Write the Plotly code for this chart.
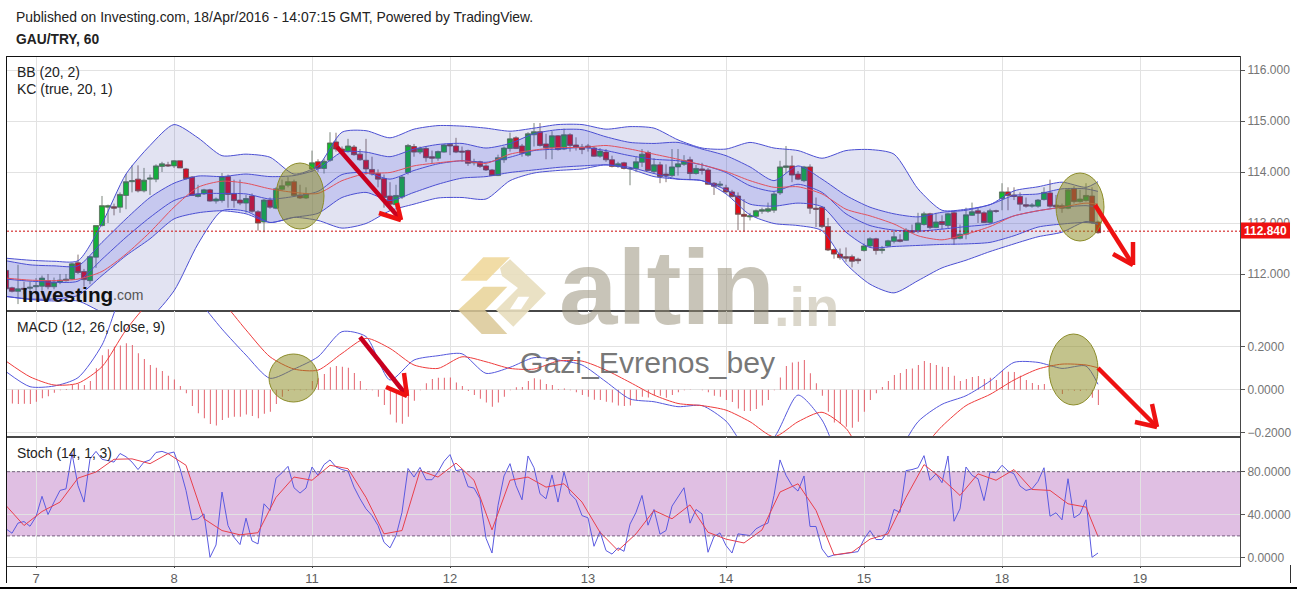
import plotly.graph_objects as go

W, H = 1297, 589

# ---------- data ----------
day_labels = ["7", "8", "11", "12", "13", "14", "15", "18", "19"]
day_bars = [0, 23, 46, 69, 92, 115, 138, 161, 184]
bars = list(range(-5, 178))
last_price = 112.84

price_open = [
 112.07,111.73,111.66,111.72,111.72,111.75,111.76,111.87,111.75,111.84,
 111.87,111.90,112.22,112.05,111.87,112.33,112.95,113.31,113.32,113.31,
 113.54,113.81,113.86,113.63,113.86,113.86,114.11,114.14,114.12,114.22,
 114.06,113.90,113.52,113.57,113.65,113.43,113.44,113.91,113.57,113.45,
 113.39,113.53,113.22,113.02,113.45,113.29,113.66,113.74,113.81,113.55,
 113.49,114.06,114.20,114.07,114.23,114.59,114.45,114.40,114.49,114.35,
 114.23,114.05,113.97,113.87,113.53,113.36,113.51,113.99,114.50,114.39,
 114.46,114.30,114.27,114.39,114.54,114.51,114.41,114.42,114.18,114.20,
 114.12,114.04,113.93,114.24,114.46,114.67,114.51,114.33,114.73,114.79,
 114.55,114.48,114.71,114.45,114.73,114.53,114.49,114.51,114.47,114.31,
 114.39,114.24,114.11,114.18,114.06,114.07,114.19,114.38,114.01,114.14,
 113.96,113.93,114.10,114.15,114.24,113.97,114.06,114.04,113.78,113.74,
 113.69,113.61,113.53,113.17,113.12,113.13,113.23,113.23,113.25,113.59,
 114.09,114.12,113.96,113.83,114.10,113.29,113.31,112.93,112.48,112.39,
 112.34,112.34,112.29,112.46,112.55,112.69,112.46,112.55,112.64,112.67,
 112.66,112.85,112.85,112.97,113.18,112.91,113.03,112.95,113.20,112.70,
 112.78,113.15,113.24,113.20,113.01,113.24,113.48,113.61,113.55,113.52,
 113.36,113.33,113.33,113.46,113.59,113.35,113.34,113.29,113.67,113.42,
 113.44,113.53,113.02]
price_high = [
 112.07,111.75,112.18,111.85,111.85,111.92,111.97,112.00,111.93,112.00,
 112.00,112.22,112.38,112.10,112.36,112.95,113.53,113.36,113.38,113.60,
 113.96,114.13,114.13,114.08,113.95,114.15,114.20,114.20,114.23,114.22,
 114.08,113.92,113.75,113.67,113.67,113.50,113.98,113.95,113.85,113.85,
 113.55,113.58,113.25,113.47,113.50,113.70,113.85,113.90,113.85,113.75,
 113.70,114.42,114.25,114.26,114.78,114.77,114.50,114.65,114.53,114.45,
 114.65,114.30,114.05,113.95,113.80,113.75,113.93,114.55,114.55,114.50,
 114.50,114.42,114.42,114.55,114.55,114.67,114.50,114.44,114.26,114.22,
 114.15,114.06,114.34,114.50,114.77,114.70,114.55,114.78,114.96,114.96,
 114.75,114.80,114.72,114.85,114.76,114.68,114.55,114.55,114.50,114.47,
 114.45,114.32,114.20,114.20,114.10,114.30,114.45,114.42,114.27,114.20,
 114.15,114.45,114.45,114.33,114.30,114.14,114.18,114.08,113.80,113.82,
 113.75,113.65,113.60,113.47,113.20,113.26,113.30,113.40,113.62,114.22,
 114.51,114.32,114.02,114.12,114.15,113.50,113.33,113.10,112.50,112.50,
 112.52,112.38,112.32,112.60,112.72,112.71,112.55,112.67,112.85,112.78,
 112.90,112.97,113.20,113.22,113.20,113.20,113.15,113.20,113.23,112.97,
 113.30,113.40,113.30,113.23,113.28,113.26,113.78,113.70,113.70,113.60,
 113.50,113.39,113.47,113.70,113.85,113.55,113.38,113.68,113.72,113.65,
 113.78,113.70,113.05]
price_low = [
 111.70,111.64,111.41,111.60,111.62,111.60,111.64,111.70,111.70,111.80,
 111.85,111.88,112.00,111.75,111.80,112.12,112.93,113.00,113.15,113.20,
 113.27,113.60,113.60,113.60,113.55,113.80,114.00,114.10,114.08,114.08,
 113.85,113.54,113.50,113.55,113.42,113.38,113.40,113.30,113.30,113.35,
 113.20,113.20,112.85,112.82,113.28,113.27,113.63,113.70,113.52,113.47,
 113.47,114.00,114.00,113.97,114.20,114.40,114.38,114.38,114.32,114.22,
 113.95,113.93,113.70,113.30,113.30,113.30,113.47,113.95,114.30,114.35,
 114.20,114.16,114.22,114.38,114.33,114.37,114.20,114.12,114.13,114.08,
 114.02,113.92,113.92,114.18,114.40,114.45,114.30,114.30,114.50,114.50,
 114.25,114.25,114.42,114.43,114.40,114.42,114.35,114.40,114.30,114.28,
 114.20,114.09,114.08,114.05,113.74,114.00,114.10,114.02,113.98,113.78,
 113.80,113.90,113.93,114.12,113.84,113.95,113.95,113.75,113.55,113.70,
 113.58,113.50,112.86,112.83,113.05,113.10,113.18,113.20,113.20,113.55,
 113.98,113.80,113.84,113.80,113.18,112.92,112.90,112.45,112.30,112.28,
 112.24,112.13,112.20,112.44,112.53,112.38,112.40,112.53,112.60,112.62,
 112.65,112.80,112.80,112.95,112.88,112.90,112.88,112.90,112.57,112.68,
 112.68,113.14,113.00,113.00,112.98,113.20,113.25,113.25,113.45,113.24,
 113.30,113.30,113.30,113.44,113.30,113.30,113.20,113.27,113.38,113.40,
 113.42,112.98,112.79]
price_close = [
 111.71,111.66,111.71,111.70,111.74,111.77,111.92,111.75,111.84,111.88,
 111.90,112.20,112.03,111.89,112.34,112.95,113.34,113.34,113.29,113.56,
 113.81,113.83,113.63,113.84,113.88,114.12,114.16,114.12,114.22,114.08,
 113.87,113.54,113.57,113.65,113.43,113.47,113.91,113.56,113.44,113.39,
 113.48,113.23,113.00,113.45,113.31,113.67,113.73,113.81,113.54,113.49,
 113.57,114.18,114.07,114.21,114.57,114.45,114.39,114.51,114.34,114.24,
 114.06,113.96,113.86,113.50,113.37,113.54,113.90,114.52,114.39,114.46,
 114.28,114.27,114.40,114.53,114.51,114.39,114.39,114.17,114.20,114.11,
 114.04,113.93,114.28,114.47,114.65,114.46,114.37,114.75,114.79,114.52,
 114.48,114.71,114.44,114.73,114.52,114.48,114.44,114.48,114.31,114.41,
 114.24,114.11,114.16,114.07,114.07,114.20,114.35,114.03,114.14,113.91,
 113.93,114.10,114.16,114.22,113.97,114.07,114.03,113.76,113.72,113.76,
 113.61,113.52,113.17,113.13,113.14,113.24,113.26,113.28,113.57,114.10,
 114.12,113.94,113.86,114.10,113.29,113.27,112.93,112.47,112.39,112.32,
 112.31,112.25,112.26,112.55,112.69,112.46,112.49,112.65,112.73,112.64,
 112.86,112.82,113.00,113.18,112.91,113.02,112.97,113.18,112.69,112.78,
 113.16,113.22,113.19,113.01,113.24,113.23,113.61,113.54,113.52,113.37,
 113.33,113.35,113.45,113.60,113.33,113.32,113.29,113.65,113.42,113.47,
 113.54,113.01,112.81]

# channel values read every fourth bar (last one at the final bar)
band_bars = list(range(-5, 176, 4)) + [177]
bb_upper = [
 112.31,112.27,112.25,112.26,112.99,113.96,114.52,114.93,114.67,114.32,114.35,114.29,113.96,114.12,114.78,114.81,114.67,114.84,
 114.91,114.90,114.86,114.80,114.86,114.93,114.93,114.84,114.89,114.86,114.63,114.47,114.45,114.58,114.47,114.42,114.27,114.42,
 114.44,114.35,113.67,113.25,113.27,113.36,113.63,113.71,113.80,113.70,113.81]
bb_lower = [
 111.56,111.50,111.47,111.47,111.25,111.07,111.15,111.67,112.59,113.24,113.23,113.01,113.11,113.05,112.90,112.99,113.24,113.37,
 113.49,113.50,113.47,113.83,113.98,114.03,114.06,114.14,114.06,113.91,113.86,113.83,113.57,113.16,112.99,112.95,112.85,112.20,
 111.80,111.63,111.87,112.12,112.27,112.44,112.59,112.73,112.82,113.03,112.97]
kc_upper = [
 112.26,112.18,112.16,112.16,112.62,113.08,113.50,113.78,113.92,113.91,113.96,113.91,113.93,114.06,114.39,114.39,114.30,114.45,
 114.54,114.56,114.47,114.56,114.75,114.83,114.83,114.69,114.58,114.56,114.58,114.45,114.32,114.10,113.83,114.12,113.86,113.54,
 113.31,113.18,113.12,113.21,113.25,113.36,113.54,113.57,113.67,113.67,113.62]
kc_lower = [
 111.56,111.51,111.51,111.58,111.97,112.36,112.69,113.08,113.20,113.24,113.18,113.01,113.11,113.19,113.50,113.60,113.44,113.60,
 113.76,113.88,113.91,113.99,114.04,114.09,114.12,114.14,114.09,113.97,113.86,113.83,113.65,113.37,113.33,113.39,113.32,112.82,
 112.52,112.54,112.56,112.58,112.59,112.62,112.75,112.92,112.98,113.01,112.98]
kc_mid = [
 111.90,111.86,111.84,111.86,112.29,112.72,113.11,113.44,113.57,113.58,113.57,113.47,113.52,113.62,113.95,113.99,113.86,114.03,
 114.16,114.22,114.19,114.29,114.42,114.45,114.48,114.42,114.32,114.25,114.22,114.14,113.99,113.73,113.62,113.76,113.60,113.18,
 112.95,112.86,112.84,112.88,112.93,112.98,113.14,113.24,113.31,113.34,113.31]
bb_mid = [
 111.92,111.88,111.87,111.90,112.05,112.39,112.82,113.31,113.70,113.82,113.78,113.67,113.60,113.58,113.83,113.97,113.99,114.12,
 114.18,114.22,114.17,114.35,114.43,114.48,114.48,114.52,114.45,114.35,114.25,114.14,114.01,113.83,113.70,113.71,113.57,113.27,
 113.14,112.98,112.75,112.67,112.78,112.93,113.14,113.24,113.31,113.39,113.37]

macd_line = [
 0.084,0.014,0.017,0.056,0.208,0.49,0.58,0.53,0.417,0.282,0.161,0.053,0.096,0.153,0.27,0.247,0.045,0.138,
 0.158,0.167,0.076,0.104,0.149,0.138,0.115,0.037,-0.043,-0.056,-0.079,-0.074,-0.146,-0.288,-0.222,-0.025,-0.141,-0.40,
 -0.53,-0.335,-0.149,-0.068,-0.028,0.04,0.127,0.127,0.099,0.11,0.025]
macd_signal = [
 0.133,0.06,0.022,0.03,0.107,0.278,0.41,0.49,0.49,0.41,0.278,0.153,0.096,0.091,0.169,0.239,0.192,0.115,
 0.099,0.153,0.13,0.099,0.096,0.133,0.133,0.091,0.034,-0.025,-0.064,-0.074,-0.095,-0.149,-0.219,-0.149,-0.105,-0.18,
 -0.35,-0.33,-0.288,-0.17,-0.074,-0.022,0.045,0.096,0.119,0.115,0.102]
macd_hist = [
 -0.07,-0.064,-0.067,-0.065,-0.067,-0.056,-0.04,-0.03,-0.014,-0.002,
 0.003,0.022,0.026,0.022,0.04,0.10,0.16,0.188,0.20,0.205,
 0.216,0.208,0.169,0.143,0.115,0.102,0.087,0.065,0.047,0.017,
 -0.017,-0.076,-0.11,-0.133,-0.16,-0.167,-0.141,-0.13,-0.126,-0.126,
 -0.115,-0.122,-0.133,-0.112,-0.102,-0.067,-0.033,-0.006,-0.003,-0.003,
 -0.003,0.04,0.053,0.073,0.104,0.11,0.107,0.102,0.078,0.04,
 0.003,-0.002,-0.033,-0.071,-0.115,-0.152,-0.158,-0.126,-0.051,-0.003,
 0.03,0.05,0.056,0.056,0.057,0.033,0.017,-0.006,-0.025,-0.042,
 -0.059,-0.079,-0.06,-0.033,-0.002,0.011,0.012,0.04,0.053,0.047,
 0.026,0.022,0.003,0.006,-0.003,-0.012,-0.025,-0.033,-0.047,-0.048,
 -0.056,-0.06,-0.074,-0.076,-0.074,-0.048,-0.033,-0.036,-0.025,-0.028,
 -0.037,-0.025,-0.012,-0.002,-0.001,0.0,-0.003,-0.012,-0.028,-0.033,
 -0.048,-0.057,-0.087,-0.099,-0.099,-0.09,-0.074,-0.048,-0.002,0.057,
 0.11,0.127,0.13,0.138,0.076,0.03,-0.028,-0.102,-0.153,-0.16,
 -0.172,-0.177,-0.149,-0.102,-0.048,-0.016,0.012,0.04,0.068,0.078,
 0.096,0.099,0.115,0.133,0.124,0.115,0.107,0.105,0.065,0.04,
 0.05,0.059,0.064,0.05,0.056,0.045,0.087,0.084,0.082,0.065,
 0.045,0.031,0.022,0.026,0.002,-0.003,-0.02,-0.003,-0.005,-0.006,
 -0.002,-0.037,-0.071]

stoch_k = [
 26.6,22.5,32,33.4,29,38,57,40,51.6,62.5,
 64,97,67,51.6,92,99,91.6,90.6,89,97,
 94,89,82,89,91,98,99,97,98.4,83,
 62.5,35,36,40.6,0,11.5,61,29.7,18.7,11.9,
 36.6,15.3,12.5,50,43.8,74,79,85,65,60,
 64.7,84.4,76.6,86.6,91,84.4,82,80.6,65.6,54.7,
 45.3,39,29.7,14,8.8,20,42,83,75,84,
 72.5,72.5,79.7,89.7,96,81,82,66,64.7,54.7,
 17.8,4,48.4,76,87.5,67,53.7,94.7,83.7,59.4,
 54.7,77,51.6,79.7,59.4,53.7,39,36.9,10.3,24,
 6.3,3,8.8,5.6,31,42,57.8,30,44.7,21.6,
 25,47.8,56,65,31.9,44.7,40.6,4.7,19.4,22.8,
 11,4,21.9,21,20.3,26.6,29.7,32,57.8,91,
 76.6,67,61.9,76,28.8,28.8,7.8,0.3,2.2,2.8,
 3.4,4,5.3,17,25,16.6,16.6,25,44.7,42,
 81,82,83.7,95,72,78,69.7,94.7,33.7,45.3,
 84.4,76.6,73.4,53,79.7,79,86,80.6,78,66.6,
 62.5,64,71,83.7,38.4,41.6,35,73.4,36.9,40.6,
 53.7,0,4]
stoch_d_bars = list(range(-5, 176, 3)) + [177]
stoch_d = [
 48.4,29.7,42.8,51.6,74,79.7,91.6,92,87.5,96.9,86,36,25,21,23,56,75,72,86,82.8,56,21.9,25,81,
 75,88,72,25.6,72,75,65.6,68.7,51.6,23.4,6.3,21.9,43.8,36,49,23.4,17,13.4,25.6,61,68.7,43.8,2.2,4.7,
 17,21.9,56,86.6,73.4,57.8,78,72,82,63.4,62.5,50,46.9,19.4]

# ---------- page geometry (pixels of the page) ----------
LEFT, RIGHT = 7.0, 1240.0
P1_TOP, P1_BOT = 56.5, 310.5
P2_TOP, P2_BOT = 310.5, 437.0
P3_TOP, P3_BOT = 437.0, 565.5

def fx(px):
    return px / W

def fy(py):
    return 1 - py / H

def bar_at(px):
    return (px - 36.0) / 6.0

x_range = [bar_at(LEFT), bar_at(RIGHT)]
y1_range = [116 - (P1_BOT - 70) / 51.0, 116 + (70 - P1_TOP) / 51.0]
y2_range = [-(P2_BOT - 389.7) / 215.0, (389.7 - P2_TOP) / 215.0]
y3_range = [-(P3_BOT - 557.3) / 1.07, (557.3 - P3_TOP) / 1.07]

BLUE = "#4b4fd2"
BAND_BB = "rgba(60,70,170,0.15)"
BAND_KC = "rgba(60,70,225,0.17)"
RED_LINE = "#e2505c"
HIST = "rgba(224,80,92,0.99)"

fig = go.Figure()

def line(x, y, color, xa="x", ya="y", width=1, smooth=False, **kw):
    style = dict(color=color, width=width)
    if smooth:
        style.update(shape="spline", smoothing=0.7)
    fig.add_trace(go.Scatter(x=x, y=y, mode="lines", xaxis=xa, yaxis=ya, line=style,
                             hoverinfo="skip", showlegend=False, **kw))

line(band_bars, bb_upper, BLUE, smooth=True)
line(band_bars, bb_lower, BLUE, smooth=True, fill="tonexty", fillcolor=BAND_BB)
line(band_bars, kc_upper, BLUE, smooth=True)
line(band_bars, kc_lower, BLUE, smooth=True, fill="tonexty", fillcolor=BAND_KC)
line(band_bars, kc_mid, BLUE, smooth=True)
line(band_bars, bb_mid, RED_LINE, smooth=True)

fig.add_trace(go.Candlestick(
    x=bars, open=price_open, high=price_high, low=price_low, close=price_close,
    xaxis="x", yaxis="y", showlegend=False, hoverinfo="skip", whiskerwidth=0,
    increasing=dict(fillcolor="#0dc02a", line=dict(color="#5a685a", width=0.8)),
    decreasing=dict(fillcolor="#e80a12", line=dict(color="#685050", width=0.8))))

fig.add_trace(go.Bar(x=bars, y=macd_hist, width=0.15, offset=-0.02, xaxis="x2", yaxis="y2",
                     marker=dict(color=HIST, line=dict(width=0)),
                     hoverinfo="skip", showlegend=False))
line(band_bars, macd_line, "#5558dc", "x2", "y2", smooth=True)
line(band_bars, macd_signal, "#ee3c3c", "x2", "y2", smooth=True)

line(bars, stoch_k, "#5a5ae0", "x3", "y3")
line(stoch_d_bars, stoch_d, "#e8404c", "x3", "y3")

# ---------- axes ----------
GRID = "#e2e2e2"
FRAME = "#474747"
tick_font = dict(family="Liberation Sans", size=12, color="#757575")

def xaxis_cfg(dom_anchor, labels=False):
    return dict(domain=[fx(LEFT), fx(RIGHT)], range=x_range, anchor=dom_anchor, automargin=False,
                tickmode="array", tickvals=day_bars, ticktext=day_labels,
                showticklabels=labels, ticks="outside" if labels else "", ticklen=1, tickcolor=FRAME,
                showgrid=True, gridcolor=GRID, gridwidth=1, zeroline=False,
                showline=True, linecolor=FRAME, linewidth=1, mirror=True,
                tickfont=dict(family="Liberation Sans", size=13, color="#5e5e5e"))

def yaxis_cfg(top, bot, anchor, rng, vals, fmt):
    return dict(domain=[fy(bot), fy(top)], range=rng, anchor=anchor, side="right", automargin=False,
                tickmode="array", tickvals=vals, tickformat=fmt, ticks="outside",
                ticklen=4, tickcolor="#555", tickfont=tick_font,
                showgrid=True, gridcolor=GRID, gridwidth=1, zeroline=False,
                showline=True, linecolor=FRAME, linewidth=1, mirror=True)

price_ticks = [112, 113, 114, 115, 116]
macd_ticks = [-0.2, 0.0, 0.2]
stoch_ticks = [0, 40, 80]

shapes = []
annos = []

def paper_line(x0, y0, x1, y1, color, width, layer="above", dash="solid"):
    shapes.append(dict(type="line", xref="paper", yref="paper", x0=fx(x0), y0=fy(y0), x1=fx(x1), y1=fy(y1),
                       line=dict(color=color, width=width, dash=dash), layer=layer))

def polygon(points, color):
    path = "M " + " L ".join(f"{fx(a):.5f},{fy(b):.5f}" for a, b in points) + " Z"
    shapes.append(dict(type="path", xref="paper", yref="paper", path=path, fillcolor=color,
                       line=dict(width=0), layer="above"))

def ellipse(x0, y0, x1, y1):
    shapes.append(dict(type="circle", xref="paper", yref="paper", x0=fx(x0), x1=fx(x1), y0=fy(y0), y1=fy(y1),
                       fillcolor="rgba(135,135,25,0.50)", line=dict(color="#8c8c2a", width=1), layer="above"))

def label(text, x, y, size, color, bold=False, anchor="left", family="Liberation Sans", **kw):
    t = f"<b>{text}</b>" if bold else text
    annos.append(dict(text=t, xref="paper", yref="paper", x=fx(x), y=fy(y), xanchor=anchor, yanchor="middle",
                      showarrow=False, font=dict(family=family, size=size, color=color), borderpad=0, **kw))

# stochastic band and last-price line
shapes.append(dict(type="rect", xref="x3 domain", yref="y3", x0=0, x1=1, y0=20, y1=80,
                   fillcolor="rgba(160,60,170,0.33)", line=dict(width=0), layer="below"))
for lvl in (20, 80):
    shapes.append(dict(type="line", xref="x3 domain", yref="y3", x0=0, x1=1, y0=lvl, y1=lvl,
                       line=dict(color="#75607f", width=1, dash="3px,2px"), layer="above"))
shapes.append(dict(type="line", xref="x domain", yref="y", x0=0, x1=1, y0=last_price, y1=last_price,
                   line=dict(color="#cc0808", width=1, dash="2px,2px"), layer="above"))

# altin logo
polygon([(483.3, 257.3), (510, 257.3), (486.7, 280.7), (460.7, 280.7)], "rgba(238,214,150,0.85)")
polygon([(483.3, 286.7), (507.3, 286.7), (485, 310), (458.3, 310)], "rgba(232,210,150,0.85)")
polygon([(458.3, 310), (485, 310), (507.3, 334), (481.7, 334)], "rgba(218,200,150,0.85)")
polygon([(510, 259.3), (546, 293.3), (513.3, 326.7), (496, 310), (518, 288), (502, 276), (500, 268)], "rgba(232,222,190,0.9)")
polygon([(518.3, 296.7), (529.3, 296.7), (521, 309.3), (510, 309.3)], "#ffffff")
label("altin", 558, 288, 105, "rgba(150,142,118,0.52)", bold=True)
label(".in", 773, 306, 56, "rgba(170,160,130,0.42)", bold=True)
label("Gazi_Evrenos_bey", 519, 362, 30.2, "rgba(90,90,90,0.82)")

# investing.com logo
label("Investing", 21, 294, 20.8, "#111111", bold=True)
label(".com", 112, 295, 14, "#555555")

# headers
label("Published on Investing.com, 18/Apr/2016 - 14:07:15 GMT, Powered by TradingView.", 15, 17, 13.9, "#222222")
label("GAU/TRY, 60", 15, 40, 13.8, "#222222", bold=True)
label("BB (20, 2)", 16, 72, 14, "#222222")
label("KC (true, 20, 1)", 16, 89, 14, "#222222")
label("MACD (12, 26, close, 9)", 16, 327, 13.9, "#222222")
label("Stoch (14, 1, 3)", 16, 453, 13.9, "#222222")

# current price tag
shapes.append(dict(type="rect", xref="paper", yref="paper", x0=fx(1241), x1=fx(1290), y0=fy(238.5), y1=fy(222.5),
                   fillcolor="#ee1111", line=dict(width=0), layer="above"))
label(f"{last_price:.3f}", 1265.5, 231, 12, "#ffffff", bold=True, anchor="center")

# drawn circles and arrows
ellipse(276, 163, 324, 229)
ellipse(1056, 173, 1104, 241)
ellipse(269, 354, 318, 402)
ellipse(1049, 334, 1098, 405)

def arrow(x0, y0, x1, y1, a, b, shaft):
    paper_line(x0, y0, x1, y1, shaft, 4.5)
    paper_line(a[0], a[1], x1, y1, "#ee1111", 4.5)
    paper_line(b[0], b[1], x1, y1, "#ee1111", 4.5)

arrow(337, 147, 401, 220, (379, 213), (397, 203), "#c8001f")
arrow(1095, 205, 1133, 265, (1113, 254), (1133, 242), "#ee1111")
arrow(360, 337, 407, 396, (386, 387), (404, 373), "#c8001f")
arrow(1098, 368, 1157, 427, (1135, 422), (1152, 404), "#ee1111")

# page frame
paper_line(6.5, 56.5, 1240, 56.5, "#111111", 1)
paper_line(6.5, 56.5, 6.5, 583, "#111111", 1)
paper_line(1290.5, 565, 1290.5, 583, "#333333", 1)
shapes.append(dict(type="rect", xref="paper", yref="paper", x0=0, x1=1, y0=0, y1=fy(587),
                   fillcolor="#000000", line=dict(width=0), layer="above"))

fig.update_layout(
    width=W, height=H, margin=dict(l=0, r=0, t=0, b=0, pad=0),
    paper_bgcolor="#ffffff", plot_bgcolor="#ffffff", showlegend=False, hovermode=False,
    barmode="overlay", boxgap=0.15, boxgroupgap=0,
    xaxis=dict(**xaxis_cfg("y"), rangeslider=dict(visible=False)),
    xaxis2=xaxis_cfg("y2"),
    xaxis3=xaxis_cfg("y3", labels=True),
    yaxis=yaxis_cfg(P1_TOP, P1_BOT, "x", y1_range, price_ticks, ".3f"),
    yaxis2=yaxis_cfg(P2_TOP, P2_BOT, "x2", y2_range, macd_ticks, ".4f"),
    yaxis3=yaxis_cfg(P3_TOP, P3_BOT, "x3", y3_range, stoch_ticks, ".4f"),
    shapes=shapes, annotations=annos,
)

assert len(price_open) == len(price_high) == len(price_low) == len(price_close) == len(bars)
assert len(macd_hist) == len(bars) and len(stoch_k) == len(bars)
assert all(len(s) == len(band_bars) for s in (bb_upper, bb_lower, kc_upper, kc_lower, kc_mid, bb_mid, macd_line, macd_signal))
assert len(stoch_d) == len(stoch_d_bars)

fig.write_html("out.html", config={"displayModeBar": False},
               post_script="document.body.style.margin='0';document.body.style.overflow='hidden';")
